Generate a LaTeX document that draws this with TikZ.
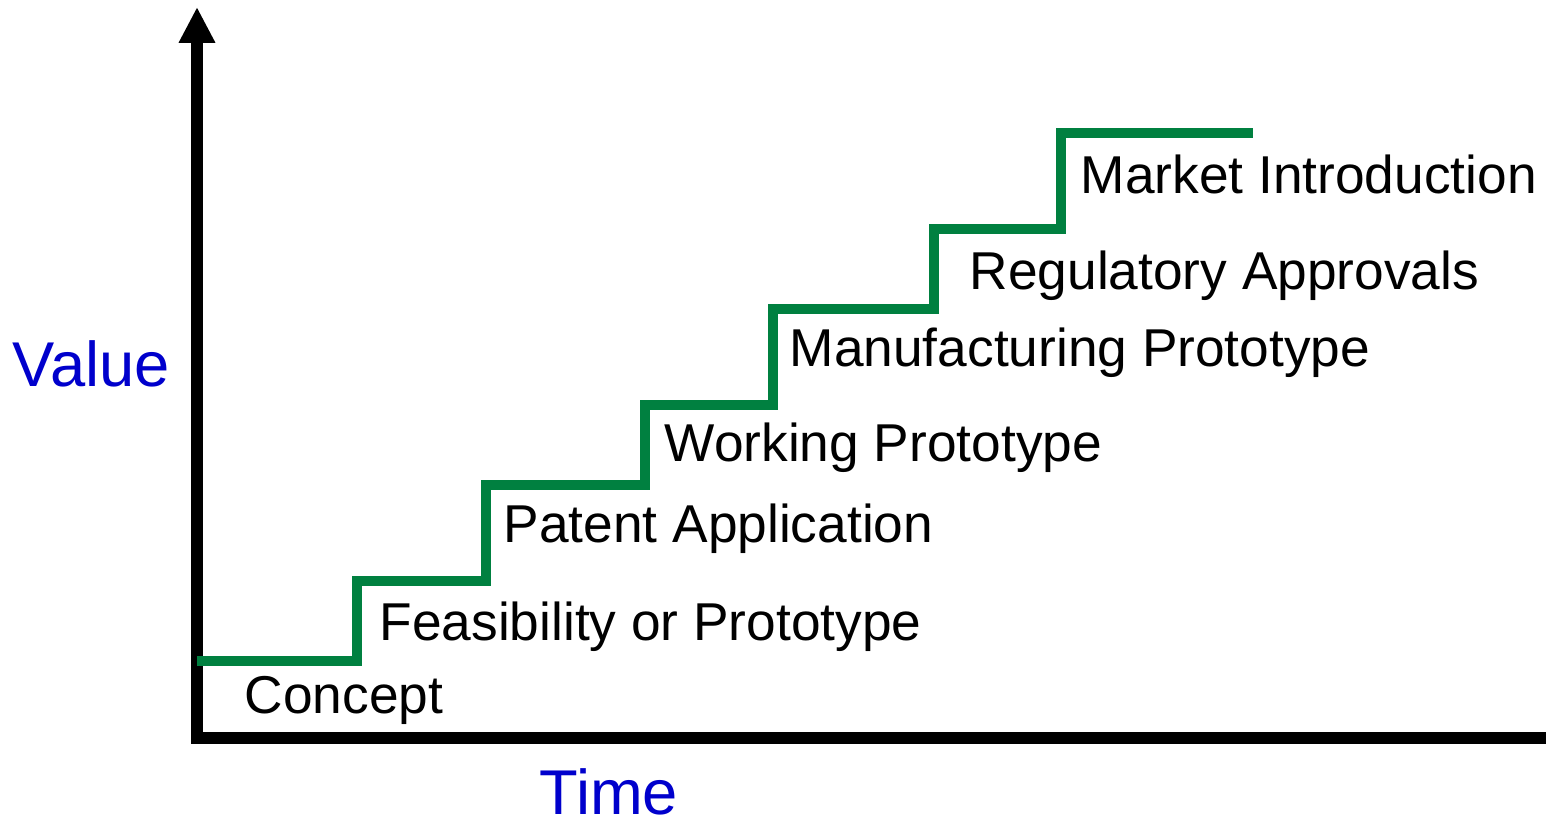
\documentclass[tikz,border=0pt]{standalone}
\usepackage{fontspec}
\setmainfont{Liberation Sans}
\usetikzlibrary{arrows.meta}

\definecolor{stepgreen}{RGB}{0,128,64}
\definecolor{axisblue}{RGB}{0,0,204}

\begin{document}
\begin{tikzpicture}[x=0.01cm, y=-0.01cm,
  axis/.style={line width=3.3pt, black, line join=miter},
  stair/.style={line width=3pt, stepgreen, line join=miter},
  stage/.style={anchor=base west, inner sep=0pt, font=\fontsize{15.15}{18}\selectfont},
  axlabel/.style={anchor=base west, inner sep=0pt, axisblue, font=\fontsize{18}{21}\selectfont}]
\useasboundingbox (0,0) rectangle (1546,822);

\coordinate (ytop) at (197,7);
\coordinate (origin) at (197,738);
\coordinate (xend) at (1546,738);

\draw[axis, {Triangle[length=10.2pt, width=9.7pt]}-] (ytop) -- (origin) -- (xend);

\draw
(12, 387) node[axlabel](value){Value}
(539, 814) node[axlabel](time){Time};

\draw
(244, 713) node[stage](concept){Concept}
(379, 640) node[stage](feas){Feasibility or Prototype}
(503, 542) node[stage](patent){Patent Application}
(664, 462) node[stage](working){Working Prototype}
(789, 367) node[stage](manuf){Manufacturing Prototype}
(969, 290) node[stage](regul){Regulatory Approvals}
(1080, 194) node[stage](market){Market Introduction};

% staircase
\draw[stair] (197,661) -- (357,661) -- (357,581) -- (486,581) -- (486,485)
  -- (645,485) -- (645,405) -- (773,405) -- (773,309) -- (934,309)
  -- (934,229) -- (1061,229) -- (1061,133) -- (1253,133);

\end{tikzpicture}
\end{document}
